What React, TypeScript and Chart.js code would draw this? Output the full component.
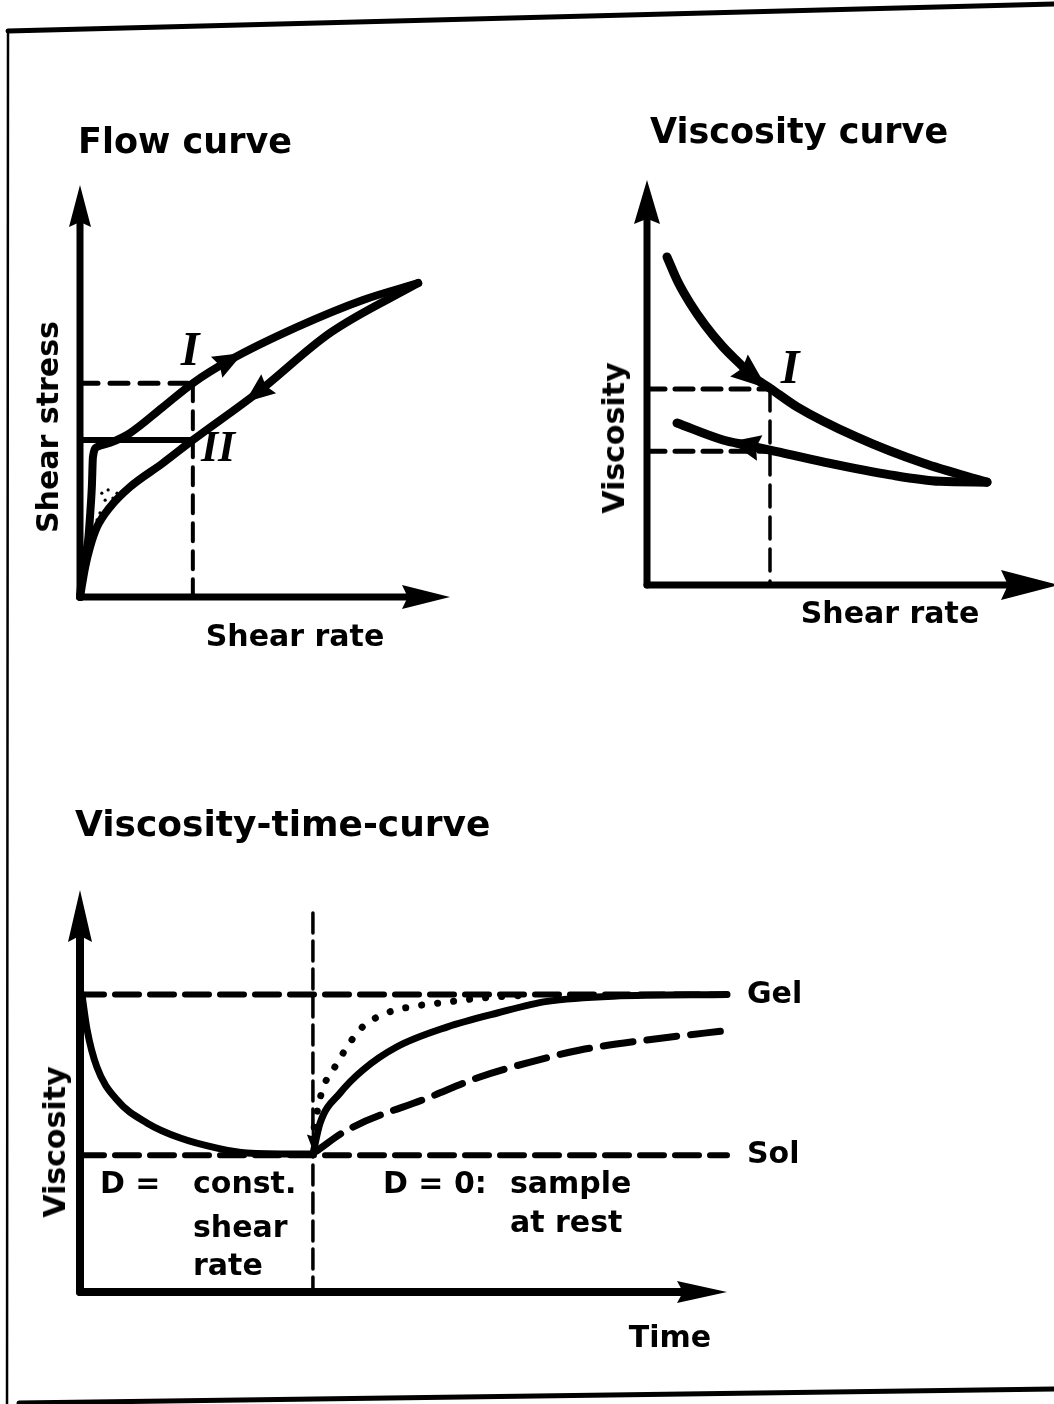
import React, { useEffect, useRef } from "react";
import { Chart, registerables } from "chart.js";

Chart.register(...registerables);

// ---------- Flow curve (shear rate -> shear stress), axes 0..100 ----------
const flowUpRate = [0, 0.8, 2.2, 2.7, 3.2, 3.5, 4.6, 8.1, 13.5, 22.4, 30.5, 40.5, 58.6, 76.5, 91.4];
const flowUpStress = [0, 7.3, 13.8, 19.4, 26.7, 34, 36.4, 37.4, 39.8, 46.1, 51.9, 57.5, 65.5, 72.1, 76.2];
const flowDownRate = [91.4, 67.6, 47.8, 30.5, 22.4, 13.5, 8.1, 4.6, 2.7, 1.4, 0];
const flowDownStress = [76.2, 64.1, 49.5, 38.1, 32.5, 26.7, 21.8, 17, 12.1, 7.3, 0];
const flowMarkRate = 30.5;
const flowLevelI = 51.9;
const flowLevelII = 38.1;
const stippleRate = [5.9, 7.6, 10, 6.8, 8.9, 5.4, 4.6, 3.8];
const stippleStress = [25.2, 26, 25.2, 23.5, 24, 20.4, 18.7, 16.3];

// ---------- Viscosity curve (shear rate -> viscosity) ----------
const viscUpRate = [5, 7.75, 10.75, 14.5, 19, 23.25, 26.5, 30.75, 37.5, 52.5, 69, 85];
const viscUpValue = [81, 74.8, 69.6, 64.2, 58.8, 54.6, 51.4, 48.6, 44, 36.5, 30.1, 25.4];
const viscDownRate = [85, 73.25, 60.75, 44, 30.75, 24.5, 19, 7.5];
const viscDownValue = [25.4, 25.6, 27.2, 30.4, 33.3, 34.6, 35.8, 40];
const viscMarkRate = 30.75;
const viscLevelI = 48.4;
const viscLevelII = 33;

// ---------- Viscosity-time curve ----------
const gelLevel = 74;
const solLevel = 34;
const switchTime = 36;
const switchLineTop = 94.3;
const decayTime = [0.3, 1.1, 2.6, 5.7, 10.4, 15.5, 21.2, 25.8, 36];
const decayVisc = [74, 65.2, 56, 47.8, 42, 38.3, 35.8, 34.6, 34.3];
const recoverTime = [36, 37.1, 40.2, 43.7, 49, 56.7, 64.5, 72.2, 82.4, 100];
const recoverVisc = [34.3, 42, 49.5, 55.2, 61, 65.9, 69.4, 72.3, 73.6, 74];
const fastTime = [36.2, 36.8, 37.6, 39.1, 41.7, 43.7, 47.4, 51, 56.7, 61.8, 69.6];
const fastVisc = [41, 46, 51, 55.2, 62, 66, 69.4, 70.9, 72.1, 73.1, 73.9];
const slowTime = [36.5, 41.3, 54.1, 61.8, 69.6, 77.3, 87.6, 100.9];
const slowVisc = [35, 40.3, 48.5, 53.5, 57.2, 60.2, 62.7, 65.2];
const junctionTime = [36, 36];
const junctionVisc = [43, 35.2];

const pts = (xs: number[], ys: number[]) => xs.map((x, i) => ({ x, y: ys[i] }));

const curve = (data: any[], width: number, dash: number[] = [], extra: any = {}) => ({
  data,
  showLine: true,
  borderColor: "#000",
  backgroundColor: "#000",
  borderWidth: width,
  borderDash: dash,
  borderCapStyle: "round",
  borderJoinStyle: "round",
  pointRadius: 0,
  pointHoverRadius: 0,
  cubicInterpolationMode: "monotone",
  tension: 0.4,
  fill: false,
  clip: false,
  ...extra,
});

const straight = { tension: 0, cubicInterpolationMode: "default" };

function drawHead(ctx: CanvasRenderingContext2D, tx: number, ty: number, dx: number, dy: number, len: number, w: number) {
  const n = Math.hypot(dx, dy) || 1;
  dx /= n;
  dy /= n;
  const bx = tx - dx * len;
  const by = ty - dy * len;
  const px = -dy;
  const py = dx;
  ctx.beginPath();
  ctx.moveTo(tx, ty);
  ctx.lineTo(bx + (px * w) / 2, by + (py * w) / 2);
  ctx.lineTo(bx + dx * len * 0.12, by + dy * len * 0.12);
  ctx.lineTo(bx - (px * w) / 2, by - (py * w) / 2);
  ctx.closePath();
  ctx.fill();
}

const sketchPlugin = {
  id: "sketch",
  beforeDatasetsDraw(chart: any, _a: any, opts: any) {
    const ctx: CanvasRenderingContext2D = chart.ctx;
    if (opts.frame) {
      ctx.save();
      ctx.strokeStyle = "#000";
      ctx.lineCap = "round";
      ctx.lineWidth = 5;
      ctx.beginPath();
      ctx.moveTo(8, 31);
      ctx.lineTo(1056, 4);
      ctx.stroke();
      ctx.beginPath();
      ctx.moveTo(19, 1403);
      ctx.lineTo(1056, 1389);
      ctx.stroke();
      ctx.lineWidth = 2.5;
      ctx.beginPath();
      ctx.moveTo(8, 30);
      ctx.lineTo(7, 1404);
      ctx.stroke();
      ctx.restore();
    }
  },
  afterDatasetsDraw(chart: any, _a: any, opts: any) {
    const ctx: CanvasRenderingContext2D = chart.ctx;
    const xs = chart.scales.x;
    const ys = chart.scales.y;
    const ox = xs.getPixelForValue(0);
    const oy = ys.getPixelForValue(0);
    const xt = xs.getPixelForValue(opts.xTip);
    const yt = ys.getPixelForValue(opts.yTip);
    ctx.save();
    ctx.fillStyle = "#000";
    ctx.strokeStyle = "#000";
    ctx.lineWidth = opts.axisWidth;
    ctx.lineCap = "round";
    ctx.beginPath();
    ctx.moveTo(ox, oy);
    ctx.lineTo(ox, yt + opts.yHead[0] * 0.6);
    ctx.stroke();
    ctx.beginPath();
    ctx.moveTo(ox, oy);
    ctx.lineTo(xt - opts.xHead[0] * 0.6, oy);
    ctx.stroke();
    drawHead(ctx, ox, yt, 0, -1, opts.yHead[0], opts.yHead[1]);
    drawHead(ctx, xt, oy, 1, 0, opts.xHead[0], opts.xHead[1]);

    chart.data.datasets.forEach((ds: any, i: number) => {
      if (ds.arrowAt == null) return;
      const els = chart.getDatasetMeta(i).data;
      const k = ds.arrowAt;
      const a = els[Math.max(0, k - 1)];
      const b = els[Math.min(els.length - 1, k + 1)];
      const p = els[k];
      let dx = b.x - a.x;
      let dy = b.y - a.y;
      const n = Math.hypot(dx, dy) || 1;
      dx /= n;
      dy /= n;
      const off = ds.arrowOffset ?? 0.5;
      drawHead(ctx, p.x + dx * ds.arrowLen * off, p.y + dy * ds.arrowLen * off, dx, dy, ds.arrowLen, ds.arrowWidth);
    });
    ctx.restore();
  },
};

type PanelProps = {
  datasets: any[];
  padding: { left: number; right: number; top: number; bottom: number };
  sketch: any;
};

function Panel({ datasets, padding, sketch }: PanelProps) {
  const ref = useRef<HTMLCanvasElement>(null);
  useEffect(() => {
    const chart = new Chart(ref.current as HTMLCanvasElement, {
      type: "scatter",
      data: { datasets },
      options: {
        animation: false,
        responsive: false,
        maintainAspectRatio: false,
        devicePixelRatio: 1,
        events: [],
        layout: { padding },
        scales: {
          x: { type: "linear", min: 0, max: 100, display: false },
          y: { type: "linear", min: 0, max: 100, display: false },
        },
        plugins: {
          legend: { display: false },
          tooltip: { enabled: false },
          title: { display: false },
          sketch,
        } as any,
      },
      plugins: [sketchPlugin as any],
    } as any);
    return () => chart.destroy();
  }, []);
  return <canvas ref={ref} width={1054} height={1404} style={{ position: "absolute", left: 0, top: 0 }} />;
}

const SANS = '"DejaVu Sans", "Liberation Sans", sans-serif';
const SERIF = '"Liberation Serif", "DejaVu Serif", serif';

type LabelProps = { text: string; x: number; y: number; size?: number; anchor?: "left" | "center"; rotate?: boolean; numeral?: boolean };

function Label({ text, x, y, size = 30, anchor = "left", rotate = false, numeral = false }: LabelProps) {
  const tx = anchor === "center" ? "-50%" : "0";
  return (
    <div
      style={{
        position: "absolute",
        left: x,
        top: y,
        transform: `translate(${tx}, -50%)${rotate ? " rotate(-90deg)" : ""}`,
        transformOrigin: rotate ? "center center" : undefined,
        fontFamily: numeral ? SERIF : SANS,
        fontStyle: numeral ? "italic" : "normal",
        fontWeight: 700,
        fontSize: size,
        lineHeight: 1,
        whiteSpace: "pre",
        color: "#000",
      }}
    >
      {text}
    </div>
  );
}

export default function App() {
  const flowSets = [
    curve(pts(flowUpRate, flowUpStress), 8, [], { arrowAt: 11, arrowLen: 30, arrowWidth: 24 }),
    curve(pts(flowDownRate, flowDownStress), 8, [], { arrowAt: 2, arrowLen: 30, arrowWidth: 24 }),
    curve(pts([0, flowMarkRate], [flowLevelI, flowLevelI]), 5, [18, 12], straight),
    curve(pts([0, flowMarkRate], [flowLevelII, flowLevelII]), 6, [], straight),
    curve(pts([flowMarkRate, flowMarkRate], [flowLevelI, 0]), 4, [18, 10], straight),
    {
      data: pts(stippleRate, stippleStress),
      showLine: false,
      pointRadius: 1.6,
      pointBorderWidth: 0,
      pointBackgroundColor: "#000",
      clip: false,
    },
  ];

  const viscSets = [
    curve(pts(viscUpRate, viscUpValue), 9, [], { arrowAt: 6, arrowLen: 36, arrowWidth: 28 }),
    curve(pts(viscDownRate, viscDownValue), 9, [], { arrowAt: 5, arrowLen: 30, arrowWidth: 26 }),
    curve(pts([0, viscMarkRate], [viscLevelI, viscLevelI]), 5, [18, 10], straight),
    curve(pts([0, viscMarkRate], [viscLevelII, viscLevelII]), 5, [18, 10], straight),
    curve(pts([viscMarkRate, viscMarkRate], [viscLevelI, 0]), 3.5, [22, 10], straight),
  ];

  const timeSets = [
    curve(pts([0, 100], [gelLevel, gelLevel]), 6, [24, 11], straight),
    curve(pts([0, 100], [solLevel, solLevel]), 6, [24, 11], straight),
    curve(pts([switchTime, switchTime], [switchLineTop, 0]), 3.5, [20, 8], straight),
    curve(pts(decayTime, decayVisc), 7),
    curve(pts(recoverTime, recoverVisc), 7),
    curve(pts(fastTime, fastVisc), 7, [0.1, 16]),
    curve(pts(slowTime, slowVisc), 7, [30, 14]),
    curve(pts(junctionTime, junctionVisc), 2.5, [], {
      ...straight,
      arrowAt: 1,
      arrowLen: 16,
      arrowWidth: 12,
      arrowOffset: 0,
    }),
  ];

  return (
    <div style={{ position: "absolute", left: 0, top: 0, width: 1054, height: 1404, background: "#fff", overflow: "hidden" }}>
      <Panel
        datasets={flowSets}
        padding={{ left: 80, right: 604, top: 185, bottom: 807 }}
        sketch={{ frame: true, xTip: 100, yTip: 100, axisWidth: 7, xHead: [48, 24], yHead: [42, 22] }}
      />
      <Panel
        datasets={viscSets}
        padding={{ left: 647, right: 7, top: 180, bottom: 819 }}
        sketch={{ xTip: 103, yTip: 100, axisWidth: 7, xHead: [58, 30], yHead: [44, 26] }}
      />
      <Panel
        datasets={timeSets}
        padding={{ left: 80, right: 327, top: 890, bottom: 112 }}
        sketch={{ xTip: 100, yTip: 100, axisWidth: 8, xHead: [50, 22], yHead: [52, 24] }}
      />

      <Label text="Flow curve" x={78} y={141} size={35} />
      <Label text="Shear stress" x={48} y={427} rotate anchor="center" />
      <Label text="Shear rate" x={295} y={636} anchor="center" />
      <Label text="I" x={190} y={349} size={48} anchor="center" numeral />
      <Label text="II" x={218} y={447} size={44} anchor="center" numeral />

      <Label text="Viscosity curve" x={650} y={131} size={35} />
      <Label text="Viscosity" x={614} y={438} rotate anchor="center" />
      <Label text="Shear rate" x={890} y={613} anchor="center" />
      <Label text="I" x={790} y={367} size={48} anchor="center" numeral />

      <Label text="Viscosity-time-curve" x={75} y={824} size={36} />
      <Label text="Viscosity" x={55} y={1142} rotate anchor="center" />
      <Label text="Gel" x={747} y={993} />
      <Label text="Sol" x={747} y={1153} />
      <Label text="D =" x={100} y={1183} />
      <Label text="const." x={193} y={1183} />
      <Label text="shear" x={193} y={1227} />
      <Label text="rate" x={193} y={1265} />
      <Label text="D = 0:" x={383} y={1183} />
      <Label text="sample" x={510} y={1183} />
      <Label text="at rest" x={510} y={1222} />
      <Label text="Time" x={670} y={1337} anchor="center" />
    </div>
  );
}
